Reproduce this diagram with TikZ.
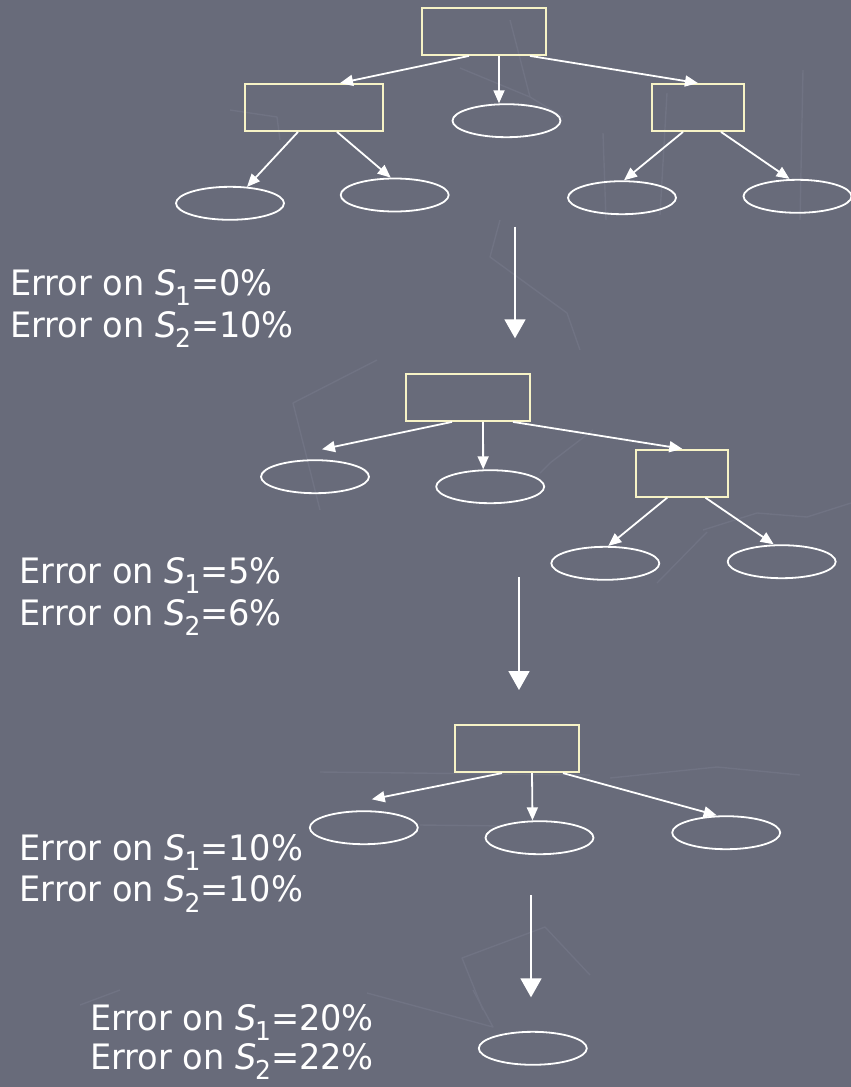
\documentclass[tikz,border=0pt]{standalone}
\usepackage{fontspec}
\setmainfont{DejaVu Sans}[FakeStretch=0.96]
\usetikzlibrary{arrows.meta,shapes.geometric}
\definecolor{bg}{HTML}{686B7A}
\definecolor{bgline}{HTML}{707383}
\definecolor{boxline}{HTML}{F7F3C6}
\newcommand{\errline}[2]{Error on \textit{S}\kern-1.5pt\raisebox{-0.3em}{\fontsize{26}{26}\selectfont #1}=#2}
\begin{document}
\begin{tikzpicture}[x=1pt,y=-1pt,
  box/.style={draw=boxline, line width=1.8pt, inner sep=0pt, minimum height=47pt},
  oval/.style={draw=white, line width=1.8pt, ellipse, inner sep=0pt, minimum width=108pt, minimum height=33pt},
  arr/.style={draw=white, line width=1.8pt, -{Triangle[length=13pt,width=11pt]}},
  bigarr/.style={draw=white, line width=1.8pt, -{Triangle[length=19pt,width=21pt]}},
  lbl/.style={anchor=base west, inner sep=0pt, text=white, font=\fontsize{35}{42}\selectfont},
  bgl/.style={draw=bgline, line width=1.4pt, line join=round}]
\fill[bg] (0,0) rectangle (851,1087);
\useasboundingbox (0,0) rectangle (851,1087);
% faint background lines
\draw[bgl] (460,68) -- (530,97) -- (563,117);
\draw[bgl] (510,20) -- (530,97);
\draw[bgl] (500,220) -- (490,257) -- (567,313) -- (580,350);
\draw[bgl] (377,360) -- (293,403) -- (320,510);
\draw[bgl] (603,133) -- (606,220);
\draw[bgl] (667,93) -- (660,215);
\draw[bgl] (803,70) -- (800,220);
\draw[bgl] (230,110) -- (277,117) -- (280,140);
\draw[bgl] (540,473) -- (550,463) -- (593,430);
\draw[bgl] (703,530) -- (757,513) -- (807,517) -- (851,503);
\draw[bgl] (707,532) -- (657,583);
\draw[bgl] (320,772) -- (590,775);
\draw[bgl] (610,778) -- (717,767) -- (800,775);
\draw[bgl] (420,825) -- (507,826);
\draw[bgl] (483,1010) -- (462,958) -- (545,927) -- (590,975);
\draw[bgl] (80,1005) -- (120,990);
\draw[bgl] (367,993) -- (493,1027) -- (473,990);
% tree 1
\node[box, minimum width=124pt] (r1) at (484,31.5) {};
\node[box, minimum width=138pt] (r1L) at (314,107.5) {};
\node[oval] (e1M) at (506.5,120.7) {};
\node[box, minimum width=92pt] (r1R) at (698,107.5) {};
\node[oval] (e1a) at (230,203.3) {};
\node[oval] (e1b) at (394.7,195) {};
\node[oval] (e1c) at (622,197.7) {};
\node[oval] (e1d) at (797.5,196.3) {};
\draw[arr] ([xshift=-15pt]r1.south) -- ([xshift=26pt]r1L.north);
\draw[arr] ([xshift=15pt]r1.south) -- ([xshift=-7.5pt]e1M.north);
\draw[arr] ([xshift=46pt]r1.south) -- (r1R.north);
\draw[arr] ([xshift=-16pt]r1L.south) -- ([xshift=17pt,yshift=-1pt]e1a.north);
\draw[arr] ([xshift=23pt]r1L.south) -- ([xshift=-4pt]e1b.north);
\draw[arr] ([xshift=-15pt]r1R.south) -- ([xshift=2pt]e1c.north);
\draw[arr] ([xshift=23pt]r1R.south) -- ([xshift=-8pt]e1d.north);
% arrow 1
\coordinate (a1s) at (515,226.7);
\coordinate (a1e) at (515,338.3);
\draw[bigarr] (a1s) -- (a1e);
\node[lbl] (t1a) at (10,295) {\errline{1}{0\%}};
\node[lbl] (t1b) at (10,337.3) {\errline{2}{10\%}};
% tree 2
\node[box, minimum width=124pt] (r2) at (468,397.5) {};
\node[oval] (e2a) at (315,476.7) {};
\node[oval] (e2b) at (490.2,486.7) {};
\node[box, minimum width=92pt] (r2R) at (682.3,473.2) {};
\node[oval] (e2c) at (605.3,563.3) {};
\node[oval] (e2d) at (781.7,561.7) {};
\draw[arr] ([xshift=-16pt]r2.south) -- ([xshift=7pt,yshift=10pt]e2a.north);
\draw[arr] ([xshift=15pt]r2.south) -- ([xshift=-7pt]e2b.north);
\draw[arr] ([xshift=45pt]r2.south) -- (r2R.north);
\draw[arr] ([xshift=-15pt]r2R.south) -- ([xshift=3pt]e2c.north);
\draw[arr] ([xshift=23pt]r2R.south) -- ([xshift=-8pt]e2d.north);
% arrow 2
\coordinate (a2s) at (519,577);
\coordinate (a2e) at (519,690);
\draw[bigarr] (a2s) -- (a2e);
\node[lbl] (t2a) at (19.4,583.3) {\errline{1}{5\%}};
\node[lbl] (t2b) at (19.4,625) {\errline{2}{6\%}};
% tree 3
\node[box, minimum width=124pt] (r3) at (517,748.7) {};
\node[oval] (e3a) at (363.8,827.7) {};
\node[oval] (e3b) at (539.5,837.7) {};
\node[oval] (e3c) at (726.2,832.7) {};
\draw[arr] ([xshift=-15pt]r3.south) -- ([xshift=8pt,yshift=11pt]e3a.north);
\draw[arr] ([xshift=15pt]r3.south) -- ([xshift=-7pt]e3b.north);
\draw[arr] ([xshift=46pt]r3.south) -- ([xshift=-9.5pt]e3c.north);
% arrow 3
\coordinate (a3s) at (531,895);
\coordinate (a3e) at (531,997.3);
\draw[bigarr] (a3s) -- (a3e);
\node[lbl] (t3a) at (19.4,860) {\errline{1}{10\%}};
\node[lbl] (t3b) at (19.4,901.7) {\errline{2}{10\%}};
% final
\node[oval] (e4) at (532.8,1048.3) {};
\node[lbl] (t4a) at (90,1030) {\errline{1}{20\%}};
\node[lbl] (t4b) at (90,1069) {\errline{2}{22\%}};
\end{tikzpicture}
\end{document}
